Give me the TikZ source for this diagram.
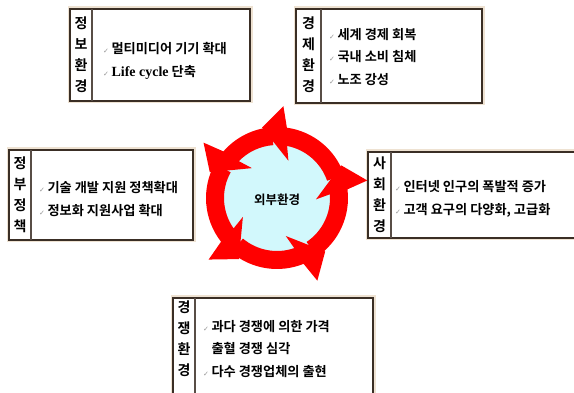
\documentclass[tikz,border=0pt]{standalone}
\usepackage{fontspec}
\setmainfont{Noto Sans CJK KR}[BoldFont={Noto Sans CJK KR Bold}]
\newfontfamily\tickfont{DejaVu Sans}
\newfontfamily\latinfont{Liberation Serif}
\usetikzlibrary{positioning}
\definecolor{FrameBrown}{RGB}{58,46,37}
\definecolor{FrameGlow}{RGB}{238,226,210}
\definecolor{RingRed}{RGB}{255,0,0}
\definecolor{CoreCyan}{RGB}{210,248,252}
\definecolor{TickGray}{RGB}{150,150,150}
\newcommand{\tick}{{\tickfont\fontsize{7}{7}\selectfont\textcolor{TickGray}{✓}}\hspace{2.5pt}}

\begin{document}
\begin{tikzpicture}[
x=1pt,y=-1pt,
glow/.style={draw=FrameGlow,line width=5pt},
frame/.style={draw=FrameBrown,line width=2.4pt,fill=white},
divider/.style={draw=FrameBrown!85,line width=1.1pt},
sidelabel/.style={
    align=center,
    inner sep=0pt,
    font=\fontsize{14}{21}\selectfont\bfseries
},
items/.style={
    anchor=west,
    align=left,
    inner sep=0pt,
    font=\fontsize{13.2}{22.5}\selectfont\bfseries
},
ring/.style={fill=RingRed}
]
\useasboundingbox (0,0) rectangle (574,393);
\clip (0,0) rectangle (574,393);
\fill[white] (0,0) rectangle (574,393);

% 정보환경
\draw[glow] (70,9) rectangle (250,101);
\draw[frame] (70,9) rectangle (250,101);
\draw[divider] (92,9) -- (92,101);
\node[sidelabel] (infoTag) at (81,55) {정\\보\\환\\경};
\node[items] (infoList) at (103,61) {\tick 멀티미디어 기기 확대\\\tick {\latinfont\fontsize{14}{14}\selectfont Life cycle} 단축};

% 경제환경
\draw[glow] (296,9) rectangle (482,103);
\draw[frame] (296,9) rectangle (482,103);
\draw[divider] (321,9) -- (321,103);
\node[sidelabel] (econTag) at (308.5,55) {경\\제\\환\\경};
\node[items] (econList) at (329,57) {\tick 세계 경제 회복\\\tick 국내 소비 침체\\\tick 노조 강성};

% 정부정책
\draw[glow] (9,150) rectangle (193,240);
\draw[frame] (9,150) rectangle (193,240);
\draw[divider] (31,150) -- (31,240);
\node[sidelabel] (govTag) at (20,195) {정\\부\\정\\책};
\node[items] (govList) at (39,199) {\tick 기술 개발 지원 정책확대\\\tick 정보화 지원사업 확대};

% 사회환경
\draw[glow] (368,152) rectangle (600,238);
\draw[frame] (368,152) rectangle (600,238);
\draw[divider] (391,152) -- (391,238);
\node[sidelabel] (socTag) at (379.5,195) {사\\회\\환\\경};
\node[items] (socList) at (395,199) {\tick 인터넷 인구의 폭발적 증가\\\tick 고객 요구의 다양화, 고급화};

% 경쟁환경
\draw[glow] (173,298) rectangle (373,420);
\draw[frame] (173,298) rectangle (373,420);
\draw[divider] (195,298) -- (195,420);
\node[sidelabel] (compTag) at (184,339) {경\\쟁\\환\\경};
\node[items] (compList) at (203,349) {\tick 과다 경쟁에 의한 가격\\\phantom{\tick}출혈 경쟁 심각\\\tick 다수 경쟁업체의 출현};

% 외부환경 cycle
\begin{scope}[shift={(277,198)},yscale=-1]
\fill[CoreCyan] (0,0) circle[radius=64];
\foreach \s/\t in {86/19,143/94,222/151,296/230,371/304}
    \fill[ring] (\t:53) -- (\t:71) arc[start angle=\t,end angle=\s-4,radius=71]
        -- (\s:92) -- ({\s+16}:72) -- ({\s-13}:39) -- ({\s-7}:53)
        arc[start angle=\s-7,end angle=\t,radius=53] -- cycle;
\end{scope}
\node[font=\fontsize{12.5}{12.5}\selectfont\bfseries] (core) at (277,200) {외부환경};

\end{tikzpicture}
\end{document}
